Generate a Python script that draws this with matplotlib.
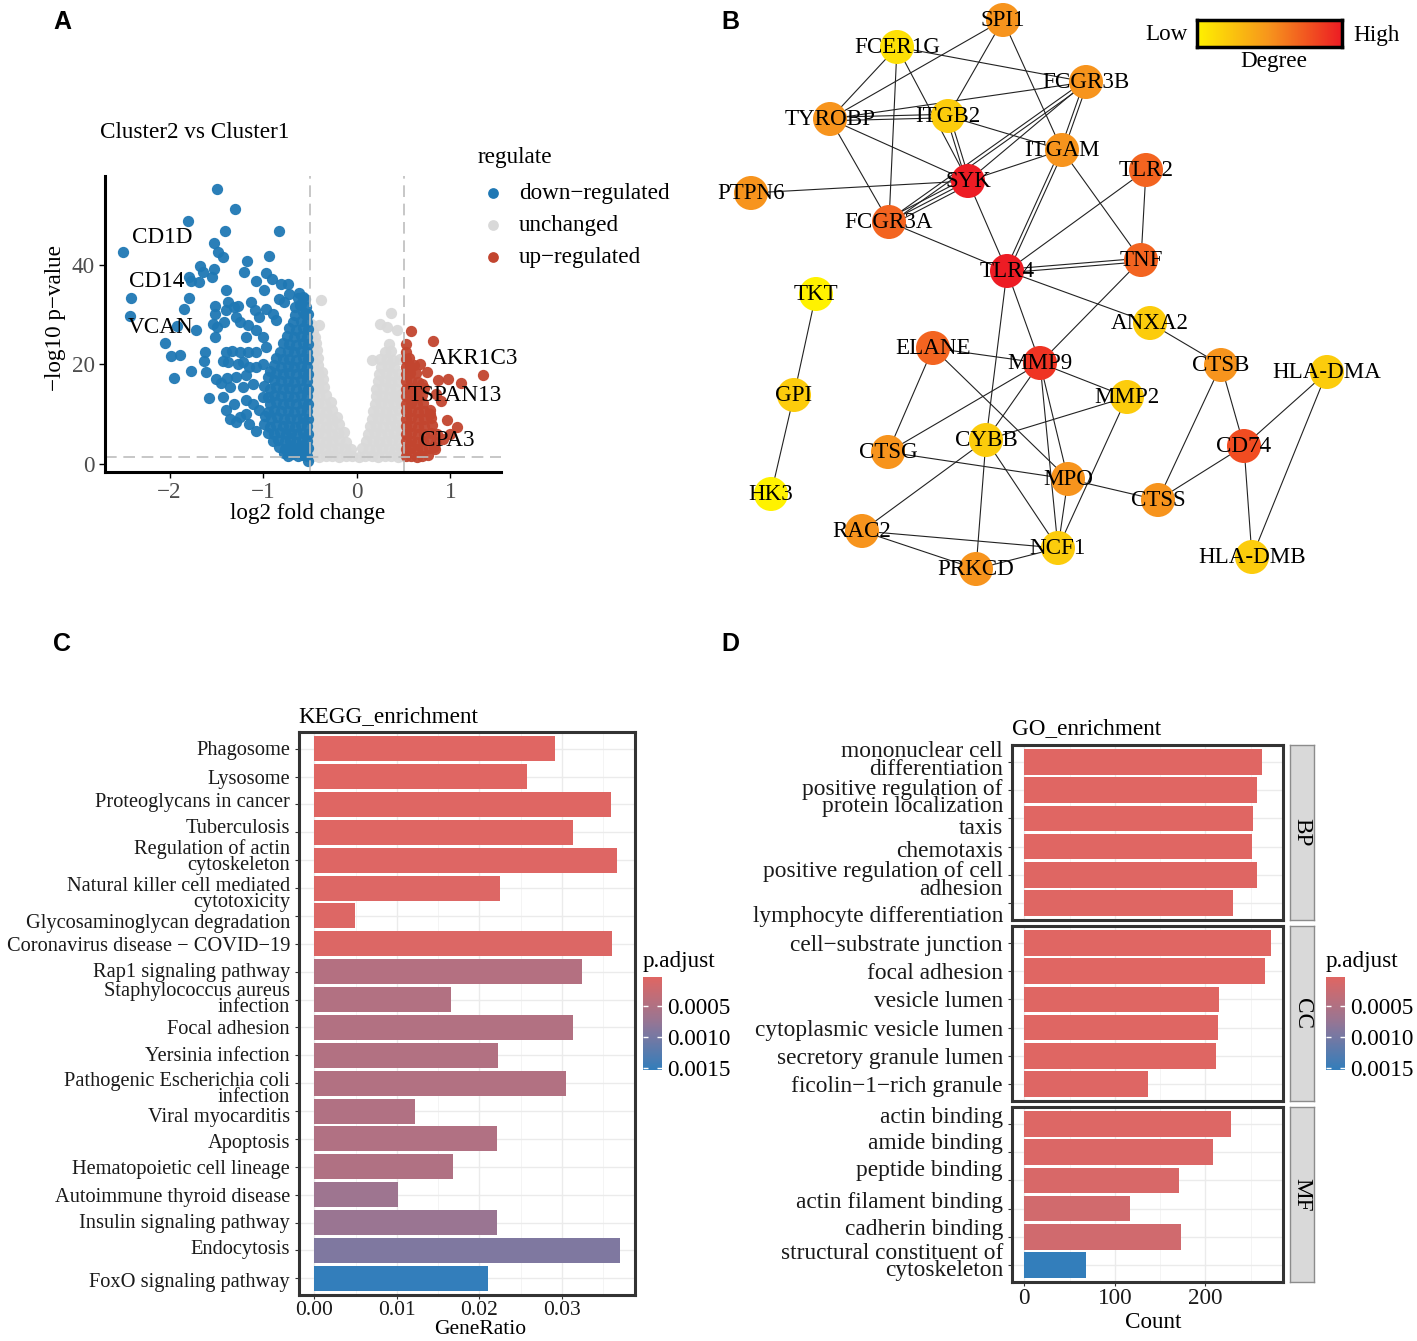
#!/usr/bin/env python3
import matplotlib
matplotlib.use("Agg")
import matplotlib.pyplot as plt
import numpy as np
from matplotlib.colors import LinearSegmentedColormap, Normalize
from matplotlib.transforms import ScaledTranslation

# ---------------- panel A : volcano (log2 fold change, -log10 p) ----------------
down_pts = [
    (-2.50, 42.5), (-1.49, 55.1), (-1.30, 51.2), (-1.80, 48.7), (-1.41, 46.7), (-0.83, 46.7),
    (-1.53, 44.3), (-1.48, 42.6), (-1.43, 41.6), (-1.17, 40.7), (-0.94, 41.8), (-1.68, 39.8),
    (-1.64, 38.6), (-1.55, 37.4), (-1.53, 39.1), (-1.21, 38.6), (-0.97, 38.4), (-1.08, 36.7),
    (-0.91, 37.1), (-0.81, 36.0), (-0.74, 36.0), (-1.79, 37.4), (-1.77, 36.7), (-1.69, 36.4),
    (-2.41, 33.2), (-2.42, 29.6), (-1.79, 33.2), (-1.40, 34.8), (-0.99, 34.9), (-1.85, 31.1),
    (-1.52, 31.6), (-1.38, 32.5), (-1.27, 31.6), (-1.13, 32.4), (-1.72, 26.9), (-1.92, 27.6),
    (-2.05, 24.3), (-1.99, 21.7), (-1.89, 21.9), (-1.95, 17.2), (-1.77, 18.6), (-1.58, 13.2),
    (-1.61, 18.4), (-1.62, 22.4), (-1.63, 20.7), (-1.50, 17.0), (-1.40, 10.7), (-1.35, 9.0),
    (-1.29, 8.3), (-1.45, 16.1), (-1.39, 17.2),
    (-1.52, 30.1), (-1.54, 28.1), (-1.49, 27.4), (-1.52, 25.4), (-1.42, 28.4), (-1.40, 30.8),
    (-1.31, 31.5), (-1.29, 29.4), (-1.25, 28.4), (-1.16, 27.8), (-1.18, 25.4), (-1.08, 26.8),
    (-1.04, 29.4), (-1.09, 30.8), (-0.97, 31.1), (-0.90, 30.1), (-0.86, 28.8), (-1.00, 25.4),
    (-0.97, 23.4), (-1.08, 22.4), (-1.16, 22.4), (-1.25, 22.4), (-1.33, 22.7), (-1.40, 22.4),
    (-1.43, 20.7), (-1.38, 20.4), (-1.27, 20.0), (-1.22, 20.4), (-1.15, 19.4), (-1.08, 19.4),
    (-1.00, 20.0), (-1.29, 17.4), (-1.18, 17.7), (-1.11, 16.0), (-1.22, 15.3), (-1.36, 15.3),
    (-1.43, 13.3), (-1.31, 12.0), (-1.18, 12.7), (-1.11, 12.0), (-1.04, 10.7), (-1.18, 10.0),
    (-1.25, 9.3), (-1.15, 8.0), (-1.08, 6.6), (-0.99, 8.0),
    (-0.72, 34.0), (-0.62, 34.2), (-0.57, 33.5), (-0.60, 32.0), (-0.66, 31.5), (-0.55, 30.0),
    (-0.83, 33.0), (-0.78, 32.5),
    (-0.53, 1.6), (-0.58, 1.8), (-0.63, 1.5), (-0.68, 1.9), (-0.73, 1.6), (-0.78, 2.2),
    (-0.52, 3.1), (-0.57, 3.0), (-0.62, 3.3), (-0.67, 2.9), (-0.72, 3.2), (-0.77, 3.0), (-0.83, 3.4),
    (-0.53, 4.5), (-0.59, 4.7), (-0.65, 4.4), (-0.71, 4.6), (-0.77, 4.5), (-0.84, 4.8), (-0.90, 4.6),
    (-0.52, 6.0), (-0.58, 6.2), (-0.64, 5.9), (-0.70, 6.1), (-0.76, 6.0), (-0.82, 6.3), (-0.88, 5.9), (-0.95, 6.2),
    (-0.53, 7.5), (-0.60, 7.7), (-0.66, 7.4), (-0.72, 7.6), (-0.79, 7.5), (-0.86, 7.8), (-0.93, 7.4),
    (-0.52, 9.0), (-0.58, 9.2), (-0.64, 8.9), (-0.71, 9.1), (-0.78, 9.0), (-0.85, 9.3), (-0.92, 8.9), (-0.98, 9.6),
    (-0.53, 10.5), (-0.60, 10.7), (-0.67, 10.4), (-0.74, 10.6), (-0.81, 10.5), (-0.88, 10.8), (-0.95, 10.4),
    (-0.52, 12.0), (-0.58, 12.2), (-0.65, 11.9), (-0.72, 12.1), (-0.79, 12.0), (-0.86, 12.3), (-0.93, 11.9), (-1.00, 13.4),
    (-0.53, 13.5), (-0.60, 13.7), (-0.67, 13.4), (-0.74, 13.6), (-0.81, 13.5), (-0.88, 13.8), (-0.95, 13.4),
    (-0.52, 15.0), (-0.58, 15.2), (-0.65, 14.9), (-0.72, 15.1), (-0.79, 15.0), (-0.86, 15.3), (-0.93, 14.9), (-0.99, 15.6),
    (-0.53, 16.5), (-0.60, 16.7), (-0.67, 16.4), (-0.74, 16.6), (-0.81, 16.5), (-0.88, 16.8), (-0.95, 17.4),
    (-0.52, 18.0), (-0.58, 18.2), (-0.65, 17.9), (-0.72, 18.1), (-0.79, 18.0), (-0.86, 18.3), (-0.93, 18.6),
    (-0.53, 19.5), (-0.60, 19.7), (-0.67, 19.4), (-0.74, 19.6), (-0.81, 19.5), (-0.89, 19.8),
    (-0.52, 21.0), (-0.58, 21.2), (-0.65, 20.9), (-0.72, 21.1), (-0.79, 21.0), (-0.86, 21.3),
    (-0.53, 22.5), (-0.60, 22.7), (-0.67, 22.4), (-0.74, 22.6), (-0.82, 22.5),
    (-0.52, 24.0), (-0.58, 24.2), (-0.65, 23.9), (-0.72, 24.1), (-0.79, 24.3),
    (-0.53, 25.5), (-0.60, 25.7), (-0.67, 25.4), (-0.75, 25.6),
    (-0.52, 27.0), (-0.58, 27.2), (-0.65, 26.9), (-0.72, 27.3),
    (-0.53, 28.5), (-0.60, 28.7), (-0.68, 28.4),
    (-0.52, 30.0), (-0.58, 30.4), (-0.66, 29.9),
    (-0.54, 31.5), (-0.61, 31.8), (-0.55, 33.0), (-0.63, 33.2), (-0.52, 0.5),
]

unchanged_pts = [
    (-0.47, 1.5), (-0.40, 1.4), (-0.33, 1.6), (-0.26, 1.5), (-0.19, 1.4), (-0.12, 1.6), (-0.05, 1.5),
    (0.02, 1.4), (0.09, 1.6), (0.16, 1.5), (0.23, 1.4), (0.30, 1.6), (0.37, 1.5), (0.44, 1.4), (0.48, 1.6),
    (-0.48, 3.0), (-0.41, 3.1), (-0.34, 2.9), (-0.27, 3.0), (-0.20, 3.2), (-0.13, 2.9), (-0.06, 3.0),
    (0.06, 3.1), (0.13, 2.9), (0.20, 3.0), (0.27, 3.2), (0.34, 2.9), (0.41, 3.0), (0.47, 3.1),
    (-0.47, 4.5), (-0.40, 4.6), (-0.33, 4.4), (-0.26, 4.5), (-0.19, 4.7), (-0.12, 4.4),
    (0.10, 4.5), (0.17, 4.6), (0.24, 4.4), (0.31, 4.5), (0.38, 4.7), (0.45, 4.4),
    (-0.48, 6.0), (-0.41, 6.1), (-0.34, 5.9), (-0.27, 6.0), (-0.20, 6.2), (-0.14, 6.4),
    (0.12, 6.0), (0.19, 6.1), (0.26, 5.9), (0.33, 6.0), (0.40, 6.2), (0.47, 5.9),
    (-0.47, 7.5), (-0.40, 7.6), (-0.33, 7.4), (-0.26, 7.5), (-0.19, 7.9),
    (0.14, 7.5), (0.21, 7.6), (0.28, 7.4), (0.35, 7.5), (0.42, 7.7), (0.48, 7.4),
    (-0.48, 9.0), (-0.41, 9.1), (-0.34, 8.9), (-0.27, 9.0), (-0.21, 9.4),
    (0.16, 9.0), (0.23, 9.1), (0.30, 8.9), (0.37, 9.0), (0.44, 9.2),
    (-0.47, 10.5), (-0.40, 10.6), (-0.33, 10.4), (-0.26, 10.7),
    (0.17, 10.5), (0.24, 10.6), (0.31, 10.4), (0.38, 10.5), (0.45, 10.7),
    (-0.48, 12.0), (-0.41, 12.1), (-0.34, 11.9), (-0.28, 12.3),
    (0.19, 12.0), (0.26, 12.1), (0.33, 11.9), (0.40, 12.0), (0.47, 12.2),
    (-0.47, 13.5), (-0.40, 13.6), (-0.33, 13.8), (0.20, 13.5), (0.27, 13.6), (0.34, 13.4), (0.41, 13.5), (0.46, 13.7),
    (-0.48, 15.0), (-0.41, 15.1), (-0.35, 15.3), (0.21, 15.0), (0.28, 15.1), (0.35, 14.9), (0.42, 15.0),
    (-0.47, 16.5), (-0.41, 16.6), (-0.36, 16.9), (0.23, 16.5), (0.30, 16.6), (0.37, 16.4), (0.44, 16.5),
    (-0.48, 18.0), (-0.42, 18.1), (-0.37, 18.4), (0.24, 18.0), (0.31, 18.1), (0.38, 17.9), (0.45, 18.0),
    (-0.47, 19.5), (-0.41, 19.8), (0.26, 19.5), (0.33, 19.6), (0.40, 19.4),
    (-0.48, 21.0), (-0.42, 21.2), (0.16, 20.9), (0.25, 21.0), (0.32, 21.1), (0.39, 20.9), (0.46, 21.0),
    (-0.47, 22.5), (-0.43, 22.8), (0.30, 22.5), (0.37, 22.6),
    (-0.48, 24.0), (-0.44, 24.3), (0.34, 24.0),
    (-0.38, 32.9), (-0.49, 28.1), (-0.40, 27.8), (0.37, 30.3), (0.25, 28.1), (0.32, 27.4),
    (0.43, 26.9), (-0.45, 25.5), (-0.47, 26.5),
]

up_pts = [
    (0.52, 1.5), (0.58, 1.6), (0.64, 1.4), (0.70, 1.5), (0.76, 1.7),
    (0.52, 3.0), (0.58, 3.1), (0.64, 2.9), (0.70, 3.0), (0.77, 3.2), (0.83, 2.9),
    (0.52, 4.5), (0.58, 4.6), (0.64, 4.4), (0.71, 4.5), (0.78, 4.7), (0.85, 4.4),
    (0.52, 6.0), (0.58, 6.1), (0.65, 5.9), (0.72, 6.0), (0.79, 6.2), (0.86, 5.9),
    (0.52, 7.5), (0.58, 7.6), (0.65, 7.4), (0.72, 7.5), (0.80, 7.7),
    (0.52, 9.0), (0.58, 9.1), (0.65, 8.9), (0.72, 9.0), (0.79, 9.2),
    (0.52, 10.5), (0.58, 10.6), (0.65, 10.4), (0.72, 10.5), (0.78, 10.7),
    (0.52, 12.0), (0.58, 12.1), (0.64, 11.9), (0.71, 12.2),
    (0.52, 13.5), (0.58, 13.6), (0.64, 13.4), (0.70, 13.7),
    (0.52, 15.0), (0.58, 15.1), (0.64, 14.9), (0.72, 15.2),
    (0.52, 16.5), (0.58, 16.6), (0.65, 16.4),
    (0.52, 18.0), (0.57, 18.1), (0.63, 18.2),
    (0.52, 19.5), (0.57, 19.6), (0.61, 19.8),
    (0.52, 21.0), (0.56, 21.2), (0.52, 22.5), (0.52, 24.0),
    (0.58, 26.6), (0.81, 24.7), (1.35, 17.7), (0.87, 16.8), (0.97, 16.9), (1.11, 16.2),
    (1.07, 7.3), (0.78, 10.0), (0.96, 8.7), (0.82, 3.3), (0.64, 14.7), (0.90, 12.5),
    (0.75, 18.5), (0.68, 20.0), (1.00, 6.0), (0.92, 5.0), (0.85, 14.0), (0.70, 16.0),
]

gene_labels = ['CD1D', 'CD14', 'VCAN', 'AKR1C3', 'TSPAN13', 'CPA3']
gene_label_pos = [(-2.40, 45.5), (-2.43, 36.6), (-2.45, 27.4), (0.79, 21.1), (0.54, 13.7), (0.68, 4.6)]

# ---------------- panel B : PPI network ----------------
nodes = ['SPI1', 'FCER1G', 'FCGR3B', 'TYROBP', 'ITGB2', 'ITGAM', 'SYK', 'TLR2', 'PTPN6', 'FCGR3A',
         'TLR4', 'TNF', 'TKT', 'ANXA2', 'ELANE', 'MMP9', 'CTSB', 'HLA-DMA', 'GPI', 'MMP2',
         'CTSG', 'CYBB', 'CD74', 'MPO', 'CTSS', 'HK3', 'RAC2', 'NCF1', 'PRKCD', 'HLA-DMB']
node_x = [1003, 897, 1086, 830, 948, 1062, 968, 1146, 751, 889,
          1007, 1141, 816, 1150, 933, 1040, 1221, 1327, 794, 1127,
          888, 986, 1244, 1068, 1158, 771, 862, 1058, 976, 1252]
node_y = [20, 47, 82, 119, 116, 150, 181, 170, 193, 222,
          271, 260, 294, 323, 348, 363, 365, 372, 395, 397,
          452, 440, 446, 479, 500, 494, 531, 548, 569, 557]
node_degree = [7, 3, 7, 7, 4, 7, 12, 9, 7, 9,
               12, 9, 2, 4, 9, 11, 7, 4, 4, 4,
               7, 4, 10, 7, 7, 2, 7, 4, 7, 4]
edges = [
    ('SPI1', 'TYROBP', 1), ('SPI1', 'ITGB2', 1), ('SPI1', 'ITGAM', 1),
    ('FCER1G', 'FCGR3B', 1), ('FCER1G', 'TYROBP', 1), ('FCER1G', 'FCGR3A', 1), ('FCER1G', 'SYK', 1),
    ('TYROBP', 'ITGB2', 2), ('TYROBP', 'FCGR3B', 1), ('TYROBP', 'SYK', 1), ('TYROBP', 'FCGR3A', 1),
    ('ITGB2', 'SYK', 2), ('ITGB2', 'ITGAM', 1),
    ('FCGR3B', 'SYK', 1), ('FCGR3B', 'FCGR3A', 2), ('FCGR3B', 'ITGAM', 2),
    ('ITGAM', 'SYK', 1), ('ITGAM', 'TNF', 1), ('ITGAM', 'TLR4', 2),
    ('SYK', 'PTPN6', 1), ('SYK', 'FCGR3A', 3), ('SYK', 'TLR4', 1),
    ('TLR2', 'TLR4', 1), ('TLR2', 'TNF', 1), ('FCGR3A', 'TLR4', 1),
    ('TLR4', 'TNF', 2), ('TLR4', 'ANXA2', 1), ('TLR4', 'MMP9', 1), ('TLR4', 'CYBB', 1),
    ('TNF', 'MMP9', 1), ('ANXA2', 'CTSB', 1),
    ('ELANE', 'MMP9', 1), ('ELANE', 'CTSG', 1), ('ELANE', 'MPO', 1),
    ('MMP9', 'MMP2', 1), ('MMP9', 'CTSG', 1), ('MMP9', 'CYBB', 1), ('MMP9', 'MPO', 1), ('MMP9', 'NCF1', 1),
    ('CTSB', 'CD74', 1), ('CTSB', 'CTSS', 1),
    ('HLA-DMA', 'CD74', 1), ('HLA-DMA', 'HLA-DMB', 1), ('CD74', 'CTSS', 1), ('CD74', 'HLA-DMB', 1),
    ('TKT', 'GPI', 1), ('GPI', 'HK3', 1),
    ('MMP2', 'CYBB', 1), ('MMP2', 'NCF1', 1),
    ('CTSG', 'MPO', 1), ('MPO', 'CTSS', 1),
    ('CYBB', 'RAC2', 1), ('CYBB', 'PRKCD', 1), ('CYBB', 'NCF1', 1),
    ('RAC2', 'NCF1', 1), ('RAC2', 'PRKCD', 1), ('PRKCD', 'NCF1', 1), ('MPO', 'NCF1', 1),
]

# ---------------- panel C : KEGG ----------------
kegg_terms = ['Phagosome', 'Lysosome', 'Proteoglycans in cancer', 'Tuberculosis',
              'Regulation of actin\ncytoskeleton', 'Natural killer cell mediated\ncytotoxicity',
              'Glycosaminoglycan degradation', 'Coronavirus disease \u2212 COVID\u221219',
              'Rap1 signaling pathway', 'Staphylococcus aureus\ninfection', 'Focal adhesion',
              'Yersinia infection', 'Pathogenic Escherichia coli\ninfection', 'Viral myocarditis',
              'Apoptosis', 'Hematopoietic cell lineage', 'Autoimmune thyroid disease',
              'Insulin signaling pathway', 'Endocytosis', 'FoxO signaling pathway']
kegg_ratio = [0.0291, 0.0258, 0.0359, 0.0313, 0.0367, 0.0225, 0.0049, 0.0361, 0.0324, 0.0166,
              0.0313, 0.0223, 0.0305, 0.0122, 0.0221, 0.0168, 0.0101, 0.0221, 0.0370, 0.0210]
kegg_padj = [0.00003, 0.00003, 0.00004, 0.00004, 0.00005, 0.00006, 0.00006, 0.00007, 0.00046, 0.00048,
             0.00048, 0.00048, 0.00048, 0.00049, 0.00049, 0.00050, 0.00069, 0.00072, 0.00093, 0.00153]

# ---------------- panel D : GO ----------------
go_groups = ['BP', 'CC', 'MF']
go_terms = {
    'BP': ['mononuclear cell\ndifferentiation', 'positive regulation of\nprotein localization', 'taxis',
           'chemotaxis', 'positive regulation of cell\nadhesion', 'lymphocyte differentiation'],
    'CC': ['cell\u2212substrate junction', 'focal adhesion', 'vesicle lumen', 'cytoplasmic vesicle lumen',
           'secretory granule lumen', 'ficolin\u22121\u2212rich granule'],
    'MF': ['actin binding', 'amide binding', 'peptide binding', 'actin filament binding',
           'cadherin binding', 'structural constituent of\ncytoskeleton'],
}
go_count = {
    'BP': [262, 257, 252, 251, 257, 230],
    'CC': [272, 266, 215, 214, 212, 136],
    'MF': [228, 208, 171, 117, 173, 68],
}
go_padj = {
    'BP': [0.00003, 0.00003, 0.00003, 0.00003, 0.00004, 0.00004],
    'CC': [0.00003, 0.00003, 0.00004, 0.00004, 0.00004, 0.00005],
    'MF': [0.00006, 0.00008, 0.00011, 0.00018, 0.00019, 0.00153],
}

# small vertical nudges (pixels, + = down) of the axis labels, as placed in the original
kegg_nudge = [-1, 0, -4, -6, -4, 5, 5, 0, -2, -1, 0, -1, 5, 4, 2, 0, 0, -2, -3, 2]
go_nudge = {'BP': [-2, 7, 8, 2, 5, 11], 'CC': [0, 0, 0, 0, 0, 0], 'MF': [-9, -11, -12, -9, -10, -4]}

# ---------------- figure ----------------
W, H = 1417, 1341
plt.rcParams['font.family'] = ['Liberation Serif', 'DejaVu Serif']
plt.rcParams['font.size'] = 16.7
fig = plt.figure(figsize=(W / 100, H / 100), dpi=100)


def px_axes(l, t, r, b):
    return fig.add_axes([l / W, 1 - b / H, (r - l) / W, (b - t) / H])


def px_text(x, y, s, **kw):
    kw.setdefault('va', 'center')
    fig.text(x / W, 1 - y / H, s, **kw)


def nudge_labels(a, shifts):
    for lab, dy in zip(a.get_yticklabels(), shifts):
        lab.set_transform(lab.get_transform() + ScaledTranslation(0, -dy / 100, fig.dpi_scale_trans))


# overlay in pixel coordinates (network + guides)
ov = fig.add_axes([0, 0, 1, 1])
ov.set_xlim(0, W)
ov.set_ylim(H, 0)
ov.axis('off')

for lab, x, y in [('A', 62, 22), ('B', 730, 22), ('C', 62, 644), ('D', 730, 644)]:
    px_text(x, y, lab, ha='center', fontfamily='Liberation Sans', fontweight='bold', fontsize=18)

# ---- A ----
reg_colors = {'down': '#1F78B4', 'unchanged': '#D9D9D9', 'up': '#C2452F'}
ax = px_axes(105, 176, 501, 472)
ax.patch.set_visible(False)
for pts, key in [(unchanged_pts, 'unchanged'), (down_pts, 'down'), (up_pts, 'up')]:
    xs, ys = zip(*pts)
    ax.scatter(xs, ys, s=66, c=reg_colors[key], alpha=0.95, linewidths=0)
ax.axvline(-0.5, color='#BDBDBD', lw=1.2, ls=(0, (7, 4)))
ax.axvline(0.5, color='#BDBDBD', lw=1.2, ls=(0, (7, 4)))
ax.axhline(1.3, color='#BDBDBD', lw=1.2, ls=(0, (7, 4)))
for g, (gx, gy) in zip(gene_labels, gene_label_pos):
    ax.text(gx, gy, g, ha='left', va='center', fontsize=16.7)
ax.set_xlim(-2.69, 1.54)
ax.set_ylim(-1.7, 57.8)
ax.set_xticks([-2, -1, 0, 1])
ax.set_yticks([0, 20, 40])
ax.tick_params(labelsize=16.7, labelcolor='#4D4D4D', length=4, width=1)
for s in ['top', 'right']:
    ax.spines[s].set_visible(False)
for s in ['left', 'bottom']:
    ax.spines[s].set_linewidth(2.2)
px_text(100, 133, 'Cluster2 vs Cluster1', ha='left')
px_text(55, 318, '\u2212log10 p\u2212value', ha='center', rotation=90)
px_text(308, 514, 'log2 fold change', ha='center')
px_text(478, 158, 'regulate', ha='left')
for i, (key, name) in enumerate([('down', 'down\u2212regulated'), ('unchanged', 'unchanged'),
                                 ('up', 'up\u2212regulated')]):
    ly = 193 + i * 32
    ov.scatter([493], [ly], s=60, c=reg_colors[key], linewidths=0, zorder=5)
    px_text(519, ly, name, ha='left')

# ---- B ----
deg_cmap = LinearSegmentedColormap.from_list('deg', ['#FFF200', '#F7941D', '#ED1C24'])
deg_norm = Normalize(min(node_degree), max(node_degree))
pos = {n: (x, y) for n, x, y in zip(nodes, node_x, node_y)}
for a, b, k in edges:
    (x1, y1), (x2, y2) = pos[a], pos[b]
    d = np.hypot(x2 - x1, y2 - y1)
    nx_, ny_ = -(y2 - y1) / d, (x2 - x1) / d
    for j in range(k):
        o = (j - (k - 1) / 2) * 3.5
        ov.plot([x1 + nx_ * o, x2 + nx_ * o], [y1 + ny_ * o, y2 + ny_ * o],
                color='#222222', lw=0.8, zorder=1)
ov.scatter(node_x, node_y, s=600, c=deg_cmap(deg_norm(node_degree)), linewidths=0, zorder=2)
for n, x, y in zip(nodes, node_x, node_y):
    ov.text(x, y, n, ha='center', va='center', fontsize=16.6, zorder=3)

cax = px_axes(1197, 20, 1342, 47)
cax.imshow(np.linspace(0, 1, 256)[None, :], cmap=deg_cmap, aspect='auto')
cax.set_xticks([])
cax.set_yticks([])
for s in cax.spines.values():
    s.set_linewidth(2.5)
px_text(1167, 35, 'Low', ha='center')
px_text(1377, 35, 'High', ha='center')
px_text(1274, 62, 'Degree', ha='center')

# ---- shared p.adjust colour scale ----
p_cmap = LinearSegmentedColormap.from_list(
    'padj', [(0.0, '#E06663'), (0.3, '#B27182'), (0.45, '#9C7591'), (0.6, '#7F78A0'), (1.0, '#337EBB')])


def padj_bar(l, t, vals):
    lo, hi = min(vals), max(vals)
    bax = px_axes(l, t, l + 19, t + 93)
    bax.imshow(np.linspace(0, 1, 256)[:, None], cmap=p_cmap, aspect='auto',
               extent=(0, 1, hi, lo))
    bax.set_ylim(hi, lo)
    bax.set_xticks([])
    bax.set_yticks([0.0005, 0.0010, 0.0015])
    bax.set_yticklabels(['0.0005', '0.0010', '0.0015'])
    bax.tick_params(left=True, right=True, labelleft=False, labelright=True, direction='in',
                    color='white', length=3.5, width=1, labelsize=16.7, pad=4)
    for s in bax.spines.values():
        s.set_visible(False)
    px_text(l, t - 15, 'p.adjust', ha='left')


def style_panel(a):
    a.set_axisbelow(True)
    a.grid(which='major', color='#EBEBEB', lw=1.0)
    a.grid(which='minor', axis='x', color='#F2F2F2', lw=0.6)
    a.tick_params(which='minor', length=0)
    a.tick_params(which='major', length=3, width=0.8, color='#333333', labelcolor='#1A1A1A')
    for s in a.spines.values():
        s.set_linewidth(2.2)
        s.set_color('#333333')


# ---- C ----
kn = Normalize(min(kegg_padj), max(kegg_padj))
axc = px_axes(299, 732, 635, 1295)
yk = np.arange(len(kegg_terms))
axc.barh(yk, kegg_ratio, height=0.9, color=p_cmap(kn(kegg_padj)))
axc.set_ylim(len(kegg_terms) - 0.4, -0.6)
xm = max(kegg_ratio)
axc.set_xlim(-0.05 * xm, 1.05 * xm)
axc.set_xticks([0.0, 0.01, 0.02, 0.03])
axc.set_xticks([0.005, 0.015, 0.025, 0.035], minor=True)
axc.set_yticks(yk)
axc.set_yticklabels(kegg_terms, fontsize=14.7, linespacing=0.8)
style_panel(axc)
axc.set_xticklabels(['0.00', '0.01', '0.02', '0.03'], fontsize=15.5)
axc.tick_params(axis='x', pad=1.5)
nudge_labels(axc, kegg_nudge)
px_text(298, 717, 'KEGG_enrichment', ha='left')
px_text(480, 1329, 'GeneRatio', ha='center', fontsize=15.5)
padj_bar(643, 977, kegg_padj)

# ---- D ----
all_go_p = [p for g in go_groups for p in go_padj[g]]
gn = Normalize(min(all_go_p), max(all_go_p))
cm = max(c for g in go_groups for c in go_count[g])
for i, g in enumerate(go_groups):
    top = 745 + i * 181
    a = px_axes(1012, top, 1283, top + 175)
    yy = np.arange(len(go_terms[g]))
    a.barh(yy, go_count[g], height=0.9, color=p_cmap(gn(go_padj[g])))
    a.set_ylim(len(yy) - 0.4, -0.6)
    a.set_xlim(-0.05 * cm, 1.05 * cm)
    a.set_xticks([0, 100, 200])
    a.set_xticks([50, 150, 250], minor=True)
    a.set_yticks(yy)
    a.set_yticklabels(go_terms[g], fontsize=16.8, linespacing=0.8)
    style_panel(a)
    nudge_labels(a, go_nudge[g])
    if g != 'MF':
        a.tick_params(axis='x', which='both', bottom=False, labelbottom=False)
    else:
        a.tick_params(axis='x', labelsize=16.7, pad=1.5)
    sa = px_axes(1290, top, 1314, top + 175)
    sa.set_facecolor('#D9D9D9')
    sa.set_xticks([])
    sa.set_yticks([])
    for s in sa.spines.values():
        s.set_color('#8C8C8C')
        s.set_linewidth(1.0)
    sa.text(0.5, 0.5, g, rotation=270, ha='center', va='center', fontsize=16.7,
            transform=sa.transAxes)
px_text(1012, 729, 'GO_enrichment', ha='left')
px_text(1153, 1322, 'Count', ha='center')
padj_bar(1326, 977, all_go_p)

fig.savefig('out.png', dpi=100)
